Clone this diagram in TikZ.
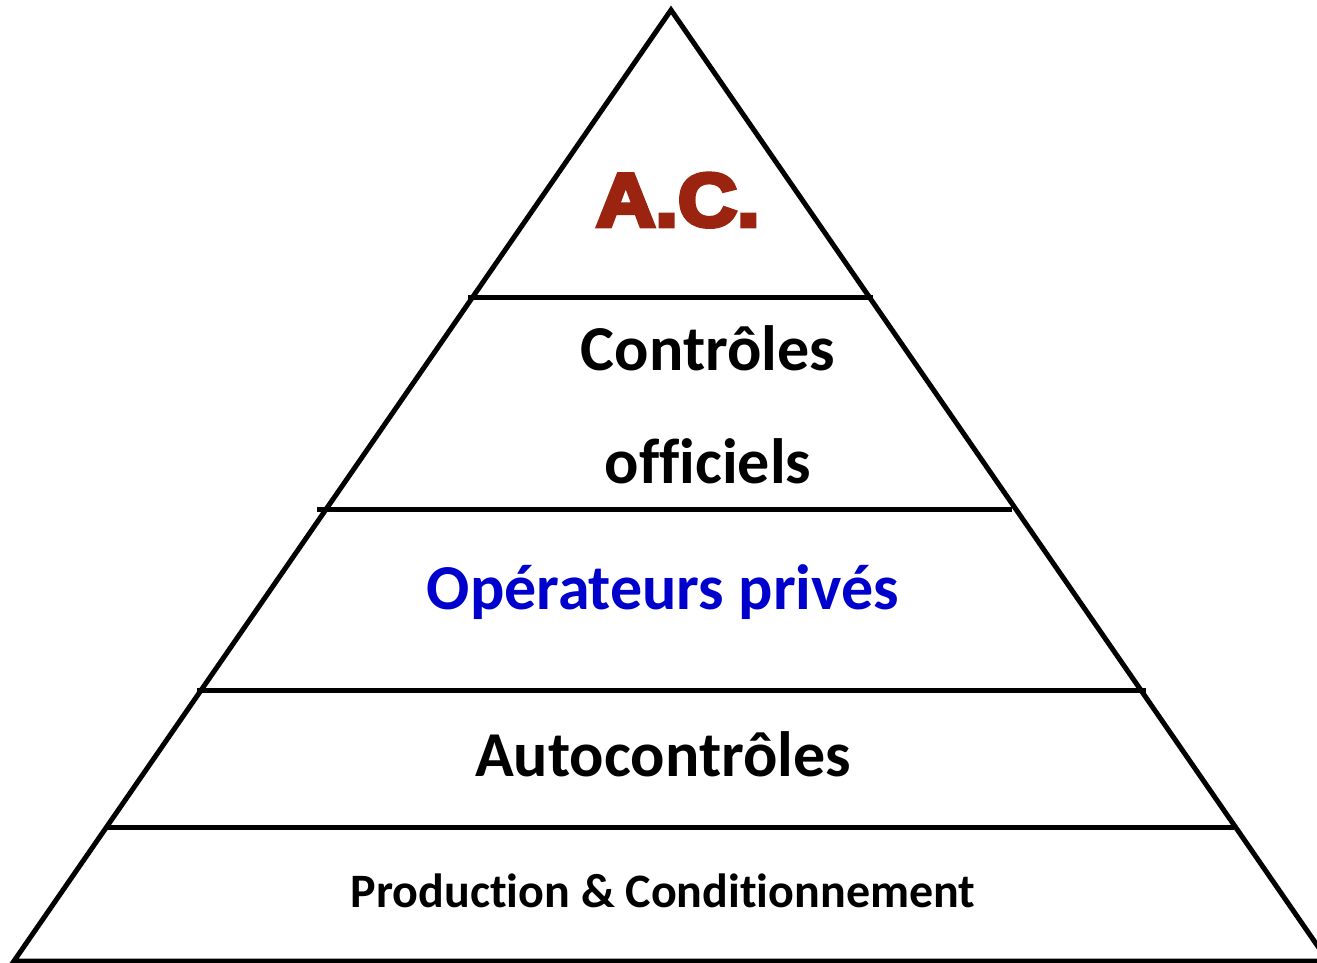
\documentclass[tikz,border=0pt]{standalone}
\usepackage{fontspec}
\setmainfont{Carlito}[Ligatures=NoCommon]
\newfontfamily\acfont{Liberation Sans Bold}[FakeBold=6,FakeStretch=1.09]
\usetikzlibrary{positioning}
\definecolor{acred}{RGB}{155,36,16}
\definecolor{opblue}{RGB}{0,0,204}

\begin{document}
\begin{tikzpicture}[x=1pt,y=-1pt]
	\tikzset{level text/.style={font=\bfseries\fontsize{64}{70}\selectfont,anchor=base}}
	\tikzset{level line/.style={line width=5pt}}
	\useasboundingbox (0,0) rectangle (1317,963);
	\clip (0,0) rectangle (1317,963);
	% pyramid outline
	\coordinate (apex) at (671,10);
	\coordinate (base left) at (14,961);
	\coordinate (base right) at (1328,961);
	\draw[level line,line join=miter] (base left) -- (apex) -- (base right) -- cycle;
	% level separators
	\foreach \y/\xa/\xb in {297/468/873,509/317/1012,690/197/1146,827/107/1234}
		\draw[level line] (\xa,\y) -- (\xb,\y);
	% level labels
	\node[anchor=base,text=acred,font=\acfont\fontsize{75}{80}\selectfont] (ac) at (678,226) {A.C.};
	\node[level text] (controles) at (708,370) {Contrôles};
	\node[level text] (officiels) at (708,483) {officiels};
	\node[level text,text=opblue] (operateurs) at (663,609) {Opérateurs privés};
	\node[level text] (autocontroles) at (663,776) {Autocontrôles};
	\node[anchor=base,font=\bfseries\fontsize{48}{52}\selectfont] (production) at (663,907) {Production \& Conditionnement};
\end{tikzpicture}
\end{document}
